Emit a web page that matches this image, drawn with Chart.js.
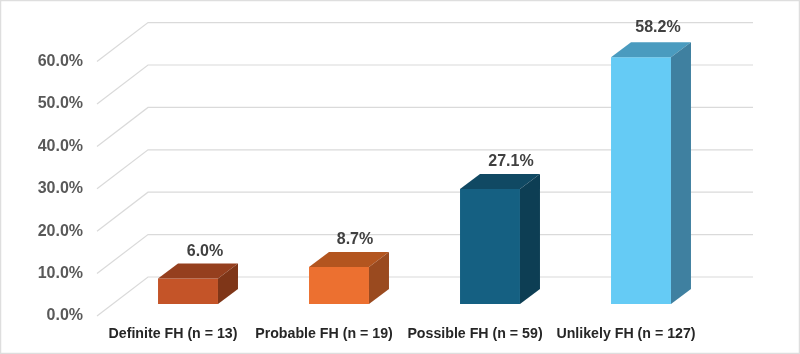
<!DOCTYPE html>
<html>
<head>
<meta charset="utf-8">
<style>html,body{margin:0;padding:0;background:#fff}canvas{display:block}</style>
<script src="https://cdn.jsdelivr.net/npm/chart.js@4"></script>
</head>
<body>
<canvas id="c" width="800" height="354"></canvas>
<script>
const categories = ['Definite FH (n = 13)', 'Probable FH (n = 19)', 'Possible FH (n = 59)', 'Unlikely FH (n = 127)'];
const percentages = [6.0, 8.7, 27.1, 58.2];
const frontColors = ['#C45428', '#EC7030', '#156082', '#65CBF5'];
const topColors = ['#953F1E', '#B3551F', '#104963', '#4A9BBF'];
const sideColors = ['#7F3618', '#9A4A1F', '#0D3E54', '#3F80A0'];
const labelShiftX = [17, 16, 21, 17];
const labelShiftY = [-27, -28, -27.5, -29.5];

const FONT = '"Liberation Sans", Arial, sans-serif';
const DEPTH_X = 20, DEPTH_Y = 15;
const FLOOR_DROP = 12, WALL_X0 = 97, WALL_X1 = 148, WALL_X2 = 753, WALL_RISE = 39;

const walls = {
  id: 'walls',
  beforeDatasetsDraw(chart) {
    const { ctx, scales: { y } } = chart;
    ctx.save();
    ctx.strokeStyle = '#DADADA';
    ctx.lineWidth = 1.2;
    y.ticks.forEach(t => {
      const py = y.getPixelForValue(t.value) + FLOOR_DROP;
      ctx.beginPath();
      ctx.moveTo(WALL_X0, py);
      ctx.lineTo(WALL_X1, py - WALL_RISE);
      ctx.lineTo(WALL_X2, py - WALL_RISE);
      ctx.stroke();
    });
    ctx.restore();
  }
};

const frame = {
  id: 'frame',
  beforeDraw(chart) {
    const { ctx, width, height } = chart;
    ctx.save();
    ctx.fillStyle = '#fff';
    ctx.fillRect(0, 0, width, height);
    ctx.strokeStyle = '#DEDEDE';
    ctx.lineWidth = 1.5;
    ctx.strokeRect(0.5, 0.5, width - 1, height - 1);
    ctx.restore();
  }
};

const box3d = {
  id: 'box3d',
  afterDatasetsDraw(chart) {
    const { ctx } = chart;
    chart.getDatasetMeta(0).data.forEach((bar, i) => {
      const l = bar.x - bar.width / 2, r = bar.x + bar.width / 2, t = bar.y, b = bar.base;
      ctx.save();
      ctx.fillStyle = topColors[i];
      ctx.beginPath();
      ctx.moveTo(l, t); ctx.lineTo(l + DEPTH_X, t - DEPTH_Y);
      ctx.lineTo(r + DEPTH_X, t - DEPTH_Y); ctx.lineTo(r, t);
      ctx.closePath(); ctx.fill();
      ctx.fillStyle = sideColors[i];
      ctx.beginPath();
      ctx.moveTo(r, t); ctx.lineTo(r + DEPTH_X, t - DEPTH_Y);
      ctx.lineTo(r + DEPTH_X, b - DEPTH_Y); ctx.lineTo(r, b);
      ctx.closePath(); ctx.fill();
      ctx.fillStyle = '#404040';
      ctx.font = 'bold 16px ' + FONT;
      ctx.textAlign = 'center';
      ctx.textBaseline = 'middle';
      ctx.fillText(percentages[i].toFixed(1) + '%', bar.x + labelShiftX[i], t + labelShiftY[i]);
      ctx.restore();
    });
  }
};

new Chart(document.getElementById('c'), {
  type: 'bar',
  data: {
    labels: categories,
    datasets: [{
      data: percentages,
      backgroundColor: frontColors,
      borderWidth: 0,
      barPercentage: 1,
      categoryPercentage: 0.397
    }]
  },
  options: {
    responsive: false,
    animation: false,
    layout: { padding: { left: 0, right: 83.5, top: 49.6, bottom: 0 } },
    plugins: { legend: { display: false }, tooltip: { enabled: false } },
    scales: {
      x: {
        grid: { display: false, drawTicks: false },
        border: { display: false },
        afterFit(s) { s.height = 50; },
        ticks: {
          padding: 22,
          labelOffset: -15,
          maxRotation: 0,
          autoSkip: false,
          color: '#262626',
          font: { family: FONT, size: 14.2, weight: 'bold' }
        }
      },
      y: {
        min: 0,
        max: 60,
        grid: { display: false, drawTicks: false },
        border: { display: false },
        afterFit(s) { s.width = 112.5; },
        ticks: {
          stepSize: 10,
          padding: 29.5,
          labelOffset: FLOOR_DROP,
          color: '#595959',
          font: { family: FONT, size: 16, weight: 'bold' },
          callback: v => v.toFixed(1) + '%'
        }
      }
    }
  },
  plugins: [frame, walls, box3d]
});
</script>
</body>
</html>
